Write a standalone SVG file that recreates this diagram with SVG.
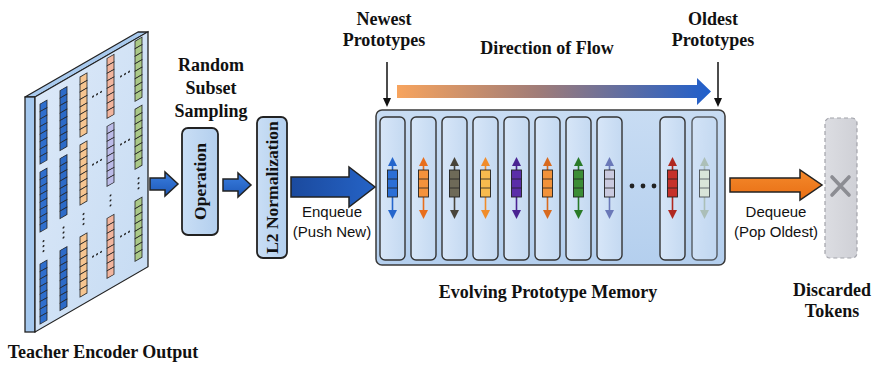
<svg xmlns="http://www.w3.org/2000/svg" xmlns:xlink="http://www.w3.org/1999/xlink" width="875" height="370" viewBox="0 0 875 370">
  <style>
    .title { font-family: "Liberation Serif", "Times New Roman", serif; font-weight: bold; font-size: 18px; fill: #111; text-anchor: middle; }
    .boxlabel { font-family: "Liberation Serif", "Times New Roman", serif; font-weight: bold; font-size: 17.5px; fill: #111; text-anchor: middle; dominant-baseline: central; }
    .note { font-family: "Liberation Sans", Arial, sans-serif; font-size: 15px; fill: #111; text-anchor: middle; }
    .edge { stroke: #222; stroke-width: 1.5; }
    .slot { fill: url(#slotFill); stroke: #333; stroke-width: 1.4; }
    .dot { fill: #222; }
  </style>
  <defs>
    <linearGradient id="faceFill" x1="0" y1="0" x2="1" y2="1">
      <stop offset="0" stop-color="#dbe8f8"/>
      <stop offset="1" stop-color="#c7dcf3"/>
    </linearGradient>
    <linearGradient id="boxFill" x1="0" y1="0" x2="1" y2="0">
      <stop offset="0" stop-color="#c9def5"/>
      <stop offset="1" stop-color="#b3cfee"/>
    </linearGradient>
    <linearGradient id="memFill" x1="0" y1="0" x2="0" y2="1">
      <stop offset="0" stop-color="#c8dcf3"/>
      <stop offset="1" stop-color="#b4cfee"/>
    </linearGradient>
    <linearGradient id="slotFill" x1="0" y1="0" x2="1" y2="0">
      <stop offset="0" stop-color="#d7e6f8"/>
      <stop offset="1" stop-color="#c4d9f1"/>
    </linearGradient>
    <linearGradient id="blueArrow" x1="0" y1="0" x2="0" y2="1">
      <stop offset="0" stop-color="#3b7fe0"/>
      <stop offset="1" stop-color="#1d58b8"/>
    </linearGradient>
    <linearGradient id="darkBlueArrow" x1="0" y1="0" x2="1" y2="0">
      <stop offset="0" stop-color="#1b4a9e"/>
      <stop offset="1" stop-color="#2563c6"/>
    </linearGradient>
    <linearGradient id="flowFill" x1="397" y1="0" x2="711" y2="0" gradientUnits="userSpaceOnUse">
      <stop offset="0" stop-color="#f7a45e"/>
      <stop offset="0.45" stop-color="#a07c78"/>
      <stop offset="1" stop-color="#1f5fcc"/>
    </linearGradient>
    <linearGradient id="orangeArrow" x1="0" y1="0" x2="0" y2="1">
      <stop offset="0" stop-color="#f58a2c"/>
      <stop offset="1" stop-color="#e86e14"/>
    </linearGradient>
    <linearGradient id="discardFill" x1="0" y1="0" x2="1" y2="0">
      <stop offset="0" stop-color="#dcdde2"/>
      <stop offset="1" stop-color="#cfd0d6"/>
    </linearGradient>
    <!-- stack of 8 token cells, fill comes from the <use> -->
    <g id="blk" stroke="#222" stroke-width="0.8">
      <rect x="0" y="0" width="7" height="7.5"/>
      <rect x="0" y="7.5" width="7" height="7.5"/>
      <rect x="0" y="15" width="7" height="7.5"/>
      <rect x="0" y="22.5" width="7" height="7.5"/>
      <rect x="0" y="30" width="7" height="7.5"/>
      <rect x="0" y="37.5" width="7" height="7.5"/>
      <rect x="0" y="45" width="7" height="7.5"/>
      <rect x="0" y="52.5" width="7" height="7.5"/>
    </g>
    <!-- vertical ellipsis -->
    <g id="vdots" class="dot">
      <circle cx="3.5" cy="-5" r="1"/>
      <circle cx="3.5" cy="0" r="1"/>
      <circle cx="3.5" cy="5" r="1"/>
    </g>
    <!-- slanted horizontal ellipsis -->
    <g id="hdots" class="dot">
      <circle cx="-4" cy="0" r="1"/>
      <circle cx="0" cy="0" r="1"/>
      <circle cx="4" cy="0" r="1"/>
    </g>
    <!-- prototype token with a two-headed arrow; box fill from use, arrow from color -->
    <g id="tok">
      <line x1="0" y1="164" x2="0" y2="212" stroke="currentColor" stroke-width="1.6"/>
      <path d="M0 157 L-4.5 166 L4.5 166 Z" fill="currentColor"/>
      <path d="M0 219 L-4.5 210 L4.5 210 Z" fill="currentColor"/>
      <rect x="-5" y="170" width="10" height="27" stroke="#222" stroke-width="0.9"/>
      <line x1="-5" y1="179" x2="5" y2="179" stroke="#222" stroke-width="0.8"/>
      <line x1="-5" y1="188" x2="5" y2="188" stroke="#222" stroke-width="0.8"/>
    </g>
  </defs>

  <rect width="875" height="370" fill="#ffffff"/>

  <!-- teacher encoder output slab -->
  <g id="encoder">
    <polygon points="25,97 35,97 148,32 138,32" fill="#a9caee" stroke="#222" stroke-width="1.3" stroke-linejoin="round"/>
    <rect x="25" y="97" width="10" height="235" fill="#a5c8ee" stroke="#222" stroke-width="1.3"/>
    <g transform="translate(35,0) skewY(-30)">
      <rect x="0" y="97" width="113" height="235" fill="url(#faceFill)" stroke="#222" stroke-width="1.3"/>
      <!-- column 1 -->
      <use xlink:href="#blk" x="5" y="107" fill="#2f6fce"/>
      <use xlink:href="#blk" x="5" y="175" fill="#2f6fce"/>
      <use xlink:href="#vdots" x="5" y="251"/>
      <use xlink:href="#blk" x="5" y="267" fill="#2f6fce"/>
      <!-- column 2 -->
      <use xlink:href="#blk" x="25" y="105" fill="#2d6bc8"/>
      <use xlink:href="#blk" x="25" y="173" fill="#2d6bc8"/>
      <use xlink:href="#vdots" x="25" y="249"/>
      <use xlink:href="#blk" x="25" y="265" fill="#2d6bc8"/>
      <!-- column 3 -->
      <use xlink:href="#blk" x="45" y="103" fill="#f6c590"/>
      <use xlink:href="#blk" x="45" y="171" fill="#f6c590"/>
      <use xlink:href="#vdots" x="45" y="247"/>
      <use xlink:href="#blk" x="45" y="263" fill="#f6c590"/>
      <use xlink:href="#hdots" x="62" y="130"/>
      <use xlink:href="#hdots" x="62" y="198"/>
      <use xlink:href="#hdots" x="62" y="290"/>
      <!-- column 4 -->
      <use xlink:href="#blk" x="72" y="100" fill="#f2b59e"/>
      <use xlink:href="#blk" x="72" y="168" fill="#bcbbe8"/>
      <use xlink:href="#vdots" x="72" y="244"/>
      <use xlink:href="#blk" x="72" y="260" fill="#f2b59e"/>
      <use xlink:href="#hdots" x="90" y="126"/>
      <use xlink:href="#hdots" x="90" y="194"/>
      <use xlink:href="#hdots" x="90" y="286"/>
      <!-- column 5 -->
      <use xlink:href="#blk" x="100" y="99" fill="#aac887"/>
      <use xlink:href="#blk" x="100" y="167" fill="#aac887"/>
      <use xlink:href="#vdots" x="100" y="243"/>
      <use xlink:href="#blk" x="100" y="259" fill="#aac887"/>
    </g>
  </g>

  <g id="operation">
    <rect x="182" y="128" width="36" height="107" rx="6" fill="url(#boxFill)" stroke="#222" stroke-width="1.8"/>
    <text class="boxlabel" x="200" y="181.5" transform="rotate(-90 200 181.5)" font-size="18">Operation</text>
  </g>

  <g id="l2norm">
    <rect x="257" y="117" width="30" height="141" rx="6" fill="url(#boxFill)" stroke="#222" stroke-width="1.8"/>
    <text class="boxlabel" x="272" y="187.5" transform="rotate(-90 272 187.5)">L2 Normalization</text>
  </g>

  <!-- prototype memory queue -->
  <g id="memory">
    <rect x="376" y="110" width="349" height="155" rx="6" fill="url(#memFill)" stroke="#3a3a3a" stroke-width="1.5"/>
    <g id="slot1"><rect class="slot" x="380" y="117" width="25" height="143" rx="5"/><use xlink:href="#tok" x="392.5" fill="#2b6fd6" color="#2566cc"/></g>
    <g id="slot2"><rect class="slot" x="411" y="117" width="25" height="143" rx="5"/><use xlink:href="#tok" x="423.5" fill="#f4923c" color="#e86e1c"/></g>
    <g id="slot3"><rect class="slot" x="442" y="117" width="25" height="143" rx="5"/><use xlink:href="#tok" x="454.5" fill="#6e6a58" color="#48443a"/></g>
    <g id="slot4"><rect class="slot" x="473" y="117" width="25" height="143" rx="5"/><use xlink:href="#tok" x="485.5" fill="#f7bb4e" color="#f08c2a"/></g>
    <g id="slot5"><rect class="slot" x="504" y="117" width="25" height="143" rx="5"/><use xlink:href="#tok" x="516.5" fill="#5b2ea8" color="#4a2392"/></g>
    <g id="slot6"><rect class="slot" x="535" y="117" width="25" height="143" rx="5"/><use xlink:href="#tok" x="547.5" fill="#f2923a" color="#d86a1e"/></g>
    <g id="slot7"><rect class="slot" x="566" y="117" width="25" height="143" rx="5"/><use xlink:href="#tok" x="578.5" fill="#3b8d35" color="#2a7a28"/></g>
    <g id="slot8"><rect class="slot" x="597" y="117" width="25" height="143" rx="5"/><use xlink:href="#tok" x="609.5" fill="#cacadf" color="#6a78b8"/></g>
    <g class="dot">
      <circle cx="632" cy="186" r="2.4"/>
      <circle cx="643" cy="186" r="2.4"/>
      <circle cx="654" cy="186" r="2.4"/>
    </g>
    <g id="slot9"><rect class="slot" x="660" y="117" width="25" height="143" rx="5"/><use xlink:href="#tok" x="672.5" fill="#c5312a" color="#b02820"/></g>
    <g id="slot10" opacity="0.75"><rect class="slot" x="692" y="117" width="25" height="143" rx="5" stroke="#7a8898"/><use xlink:href="#tok" x="704.5" fill="#e2ead2" color="#a6b8a6"/></g>
  </g>

  <g id="discarded">
    <rect x="825" y="118" width="32" height="140" rx="5" fill="url(#discardFill)" stroke="#a2a3aa" stroke-width="1.2" stroke-dasharray="4 3"/>
    <path d="M832 177 L849 195 M849 177 L832 195" stroke="#8c8d93" stroke-width="3.6" stroke-linecap="round"/>
  </g>

  <!-- block arrows and pointer lines -->
  <g id="connectors">
    <polygon class="edge" points="150,178 165,178 165,172 178,184 165,196 165,190 150,190" fill="url(#blueArrow)" stroke-width="1"/>
    <polygon class="edge" points="223,179 238,179 238,173 251,185 238,197 238,191 223,191" fill="url(#blueArrow)" stroke-width="1"/>
    <polygon class="edge" points="291,177 349,177 349,167 375,187 349,207 349,197 291,197" fill="url(#darkBlueArrow)" stroke-width="1.2"/>
    <polygon class="edge" points="730,178 800,178 800,170 822,185 800,200 800,192 730,192" fill="url(#orangeArrow)" stroke-width="1.2"/>
    <polygon points="397,85 697,85 697,78 711,91.5 697,105 697,98 397,98" fill="url(#flowFill)"/>
    <line x1="387" y1="62" x2="387" y2="99" stroke="#111" stroke-width="1.5"/>
    <path d="M383 98 L391 98 L387 107 Z" fill="#111"/>
    <line x1="718" y1="62" x2="718" y2="99" stroke="#111" stroke-width="1.5"/>
    <path d="M714 98 L722 98 L718 107 Z" fill="#111"/>
  </g>

  <g id="labels">
    <text class="title" x="211" y="71">Random</text>
    <text class="title" x="211" y="94">Subset</text>
    <text class="title" x="211" y="117">Sampling</text>
    <text class="title" x="384" y="25">Newest</text>
    <text class="title" x="384" y="46">Prototypes</text>
    <text class="title" x="547" y="54">Direction of Flow</text>
    <text class="title" x="713" y="25">Oldest</text>
    <text class="title" x="713" y="46">Prototypes</text>
    <text class="title" x="548" y="298">Evolving Prototype Memory</text>
    <text class="title" x="832" y="296">Discarded</text>
    <text class="title" x="832" y="317">Tokens</text>
    <text class="title" x="103" y="358">Teacher Encoder Output</text>
    <text class="note" x="332" y="217">Enqueue</text>
    <text class="note" x="332" y="237">(Push New)</text>
    <text class="note" x="776" y="217">Dequeue</text>
    <text class="note" x="776" y="237">(Pop Oldest)</text>
  </g>
</svg>
